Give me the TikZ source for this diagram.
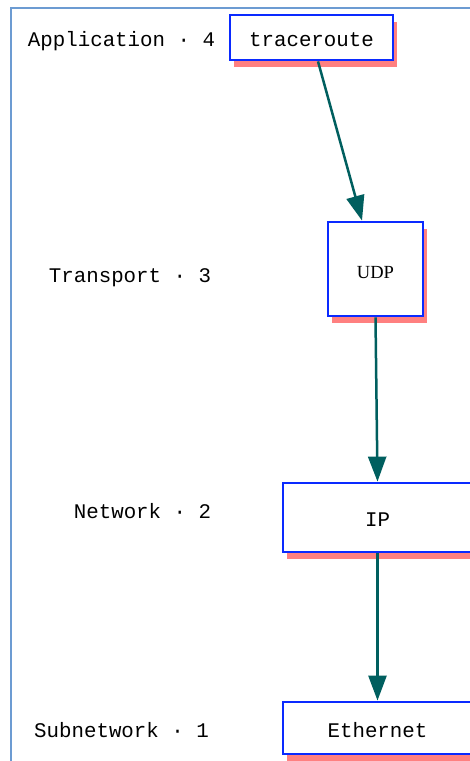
\documentclass[tikz,border=0pt]{standalone}
\usepackage{fontspec}
\setmonofont{Liberation Mono}
\newfontfamily\udpfont{Liberation Serif}
\usetikzlibrary{arrows.meta,shadows,calc}
\definecolor{framecol}{HTML}{6C9BD2}
\definecolor{boxblue}{HTML}{0A2AFF}
\definecolor{shadowred}{HTML}{FF8080}
\definecolor{arrowcol}{HTML}{005F5F}
\newcommand{\lowtxt}[2]{\raisebox{-#1}[0pt][0pt]{#2}}
\begin{document}
\begin{tikzpicture}[x=1pt,y=-1pt,
  layerbox/.style={draw=boxblue, line width=2.8pt, fill=white, rectangle, inner sep=0pt,
    font=\ttfamily\fontsize{20.8}{24}\selectfont,
    drop shadow={fill=shadowred, opacity=1, shadow xshift=4pt, shadow yshift=-7pt}},
  layerlabel/.style={font=\ttfamily\fontsize{20.8}{24}\selectfont, inner sep=0pt, anchor=base},
  flow/.style={draw=arrowcol, line width=2.5pt, -{Triangle[length=25pt,width=18pt]}}]
\useasboundingbox (0,0) rectangle (470,761);
\clip (0,0) rectangle (470,761);
\fill[white] (0,0) rectangle (470,761);
\draw[framecol, line width=1.8pt] (11,780) |- (490,8);

\node[layerbox, minimum width=163pt, minimum height=45pt] (trace) at (311.5,37.5) {\lowtxt{8.5pt}{traceroute}};
\node[layerbox, minimum width=95pt, minimum height=94pt, font=\udpfont\fontsize{18.5}{22}\selectfont] (udp) at (375.5,269) {\lowtxt{9pt}{UDP}};
\node[layerbox, minimum width=189pt, minimum height=69pt] (ip) at (377.5,517.5) {\lowtxt{8.5pt}{IP}};
\node[layerbox, minimum width=189pt, minimum height=52pt] (eth) at (377.5,728) {\lowtxt{9pt}{Ethernet}};

\node[layerlabel] (l4) at (121.5,46) {Application · 4};
\node[layerlabel] (l3) at (130,282) {Transport · 3};
\node[layerlabel] (l2) at (142.5,518) {Network · 2};
\node[layerlabel] (l1) at (121.5,737) {Subnetwork · 1};

\draw[flow] ([xshift=6.5pt]trace.south) -- ([xshift=-13.5pt]udp.north);
\draw[flow] (udp.south) -- (ip.north);
\draw[flow] (ip.south) -- (eth.north);
\end{tikzpicture}
\end{document}
